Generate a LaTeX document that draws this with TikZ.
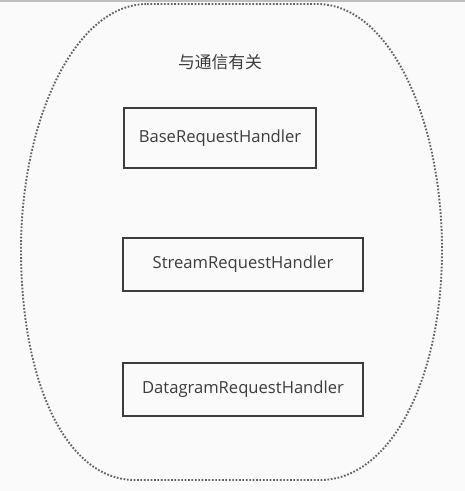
\documentclass[tikz,border=0pt]{standalone}
\usepackage{fontspec}
\setmainfont{Open Sans}
\newfontfamily\cjkfont{Noto Sans CJK SC}
\definecolor{ink}{HTML}{3C3C3C}
\definecolor{bg}{HTML}{FAFAFA}
\begin{document}
\begin{tikzpicture}[x=1pt,y=-1pt,
  handler/.style={draw=ink,line width=1.8pt,text=ink,minimum height=53pt,
    inner sep=0pt,font=\fontsize{16.6}{19}\selectfont},
  group/.style={draw=ink!80,line width=1.9pt,dash pattern=on 1.7pt off 1.7pt}]
\useasboundingbox (0,0) rectangle (465,491);
\fill[bg] (0,0) rectangle (465,491);
\draw[black!25,line width=1.5pt] (0,0.75) -- (465,0.75);
\draw[group] (147,4) -- (317,4)
  .. controls (390,4) and (442,120) .. (442,250)
  .. controls (442,380) and (390,480) .. (320,480)
  -- (135,480)
  .. controls (65,480) and (21,380) .. (21,250)
  .. controls (21,120) and (75,4) .. (147,4) -- cycle;
\node[text=ink,font=\cjkfont\fontsize{16.8}{19}\selectfont] (title) at (220,62) {与通信有关};
\node[handler,minimum width=192pt,minimum height=60pt] (base) at (220,138) {BaseRequestHandler};
\node[handler,minimum width=240pt] (stream) at (243,264.5) {StreamRequestHandler};
\node[handler,minimum width=240pt] (dgram) at (243,389.5) {DatagramRequestHandler};
\end{tikzpicture}
\end{document}
